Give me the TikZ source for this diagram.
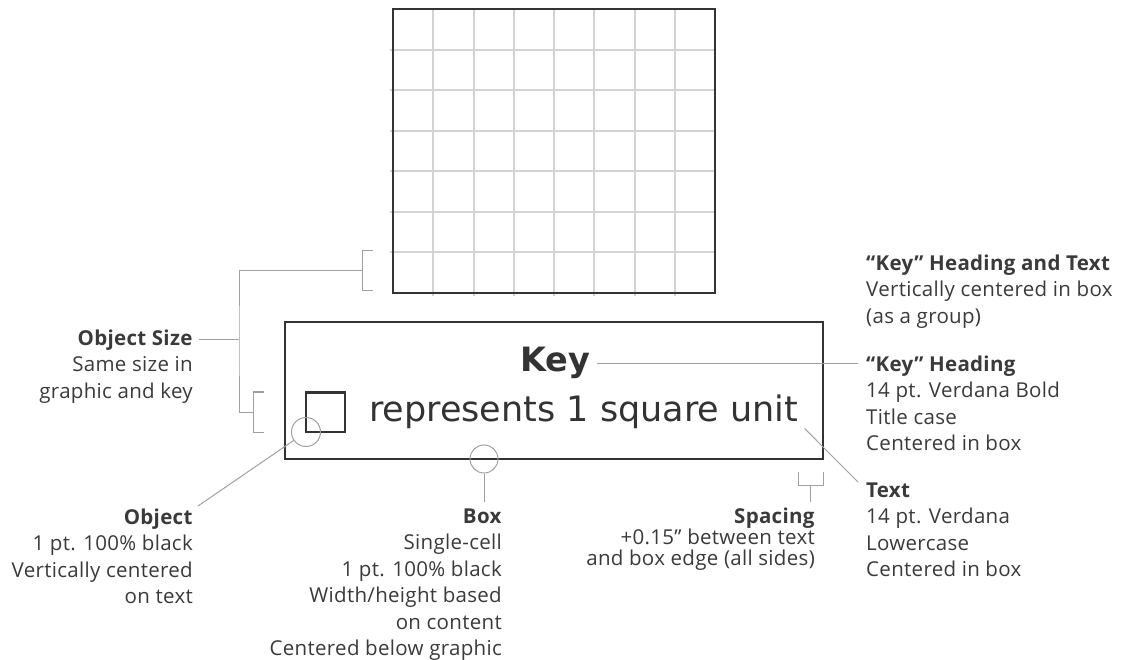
\documentclass[tikz,border=0pt]{standalone}
\usepackage{fontspec}
\setmainfont{Open Sans}[LetterSpace=1.5]
\newfontfamily\verd{DejaVu Sans}
\usetikzlibrary{calc}
\definecolor{ink}{HTML}{3A3A3A}
\definecolor{frame}{HTML}{333333}
\definecolor{connc}{HTML}{A0A0A0}
\definecolor{cellc}{HTML}{D3D3D3}
\begin{document}
\begin{tikzpicture}[x=1pt,y=-1pt,
  annot/.style={inner sep=0pt, text=ink, font=\fontsize{20.5}{26.5}\selectfont},
  conn/.style={draw=connc, line width=1pt},
  cellline/.style={draw=cellc, line width=2pt},
  frameline/.style={draw=frame, line width=2.4pt},
  keyfont/.style={inner sep=0pt, text=frame, font=\verd\fontsize{35}{40}\selectfont},
  keybold/.style={inner sep=0pt, text=frame, font=\verd\bfseries\fontsize{33.5}{40}\selectfont},
  ring/.style={circle, draw=connc, line width=1pt, inner sep=0pt, minimum size=29pt}
]
\useasboundingbox (0,0) rectangle (1125,660);

% graphic grid
\node[minimum width=322pt, minimum height=284pt, inner sep=0pt] (graphic) at (554,151) {};
\foreach \x in {433,474,514,554,594,635,675} \draw[cellline] (\x,9) -- (\x,296);
\foreach \y in {50,90,131,171,212,252} \draw[cellline] (390,\y) -- (715,\y);
\draw[frameline] (graphic.south west) rectangle (graphic.north east);

% key box
\node[frameline, minimum width=538pt, minimum height=137pt, inner sep=0pt] (keybox) at (554,390.5) {};
\node[keybold, anchor=base] (keyhead) at (555,372) {Key};
\node[keyfont, anchor=base west] (keytext) at (369,421) {represents 1 square unit};
\node[draw=frame, line width=2pt, minimum size=39pt, inner sep=0pt] (obj) at (325.5,412) {};

% circles
\node[ring] (objcirc) at (306,432) {};
\node[ring, minimum size=28pt] (boxcirc) at (484,459) {};

% brackets
\draw[conn] (373,251) -- (362,251) -- (362,291) -- (373,291);
\draw[conn] (264,392) -- (253,392) -- (253,432) -- (264,432);
\coordinate (brG) at (362,271);
\coordinate (brO) at (253,412);
\coordinate (spine) at (239,340);
\coordinate (osTip) at (199,340);
\draw[conn] (brG) -| (spine) |- (brO);
\draw[conn] (osTip) -- (spine);

% spacing bracket
\draw[conn] (798,472) -- (798,485) -- (823,485) -- (823,472);
\coordinate (spStem) at (810.5,485);
\coordinate (spTip) at (810.5,502);
\draw[conn] (spStem) -- (spTip);

% connectors
\coordinate (objTip) at (198,506);
\coordinate (boxTip) at (484,502);
\coordinate (khTip) at (858,362);
\coordinate (txTip) at (858,482);
\draw[conn] (objcirc) -- (objTip);
\draw[conn] (boxcirc.south) -- (boxTip);
\draw[conn] ([xshift=7pt]keyhead.east) -- (keyhead.east -| khTip);
\draw[conn] ([xshift=6pt]keytext.south east) -- (txTip);

% labels
\node[annot, align=right, anchor=north east] (lblSize) at (193,329.5)
  {\textbf{Object Size}\\Same size in\\graphic and key};
\node[annot, align=right, anchor=north east] (lblObj) at (193,508.5)
  {\textbf{Object}\\1 pt. 100\% black\\Vertically centered\\on text};
\node[annot, align=right, anchor=north east] (lblBox) at (502,508.5)
  {\textbf{Box}\\Single-cell\\1 pt. 100\% black\\Width/height based\\on content\\Centered below graphic};
\node[annot, align=right, anchor=north east, font=\fontsize{20.5}{21}\selectfont] (lblSp) at (815,508)
  {\textbf{Spacing}\\+0.15” between text\\and box edge (all sides)};
\node[annot, align=left, anchor=north west] (lblHT) at (866,254.5)
  {\textbf{“Key” Heading and Text}\\Vertically centered in box\\(as a group)};
\node[annot, align=left, anchor=north west] (lblKH) at (866,355.5)
  {\textbf{“Key” Heading}\\14 pt. Verdana Bold\\Title case\\Centered in box};
\node[annot, align=left, anchor=north west] (lblTx) at (866,482.5)
  {\textbf{Text}\\14 pt. Verdana\\Lowercase\\Centered in box};
\end{tikzpicture}
\end{document}
